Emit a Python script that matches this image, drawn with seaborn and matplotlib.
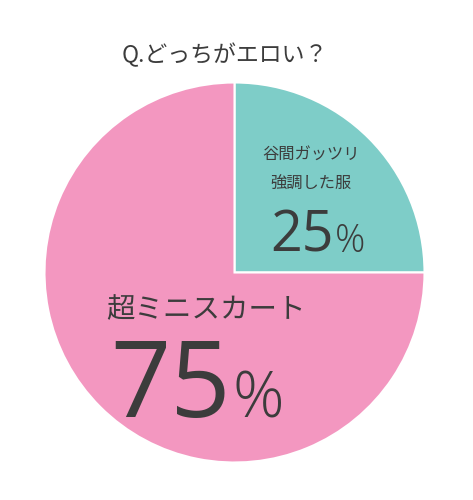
import matplotlib
matplotlib.use("Agg")
import matplotlib.pyplot as plt
import seaborn as sns

# ---- data ----
title = "Q.どっちがエロい？"
categories = ["谷間ガッツリ\n強調した服", "超ミニスカート"]
values = [25, 75]
pct_labels = ["25", "75"]
colors = ["#7ECDC8", "#F397C0"]

sns.set_theme(style="white")
plt.rcParams['font.family'] = ['Noto Sans CJK JP', 'DejaVu Sans']

W, H = 473, 500
fig = plt.figure(figsize=(W / 100, H / 100), dpi=100)
fig.patch.set_facecolor("white")

cx, cy, r = 234.5, 272.5, 190
ax = fig.add_axes([(cx - r) / W, (H - cy - r) / H, 2 * r / W, 2 * r / H])
ax.pie(values, colors=colors, startangle=90, counterclock=False, radius=1,
       wedgeprops=dict(edgecolor="white", linewidth=1.5))
ax.set_xlim(-1.0, 1.0)
ax.set_ylim(-1.0, 1.0)
ax.set_aspect("equal")
ax.axis("off")

txt = "#3c3c3c"

def fx(x):
    return x / W

def fy(y):
    return 1 - y / H

# title
fig.text(fx(225), fy(55), title, ha="center", va="center", fontsize=16.5, color=txt)

# small slice label
lines = categories[0].split("\n")
fig.text(fx(311), fy(155), lines[0], ha="center", va="center", fontsize=11.7, color=txt)
fig.text(fx(311), fy(184), lines[1], ha="center", va="center", fontsize=11.7, color=txt)
fig.text(fx(334), fy(252), pct_labels[0], ha="right", va="baseline", fontsize=40,
         color=txt, family="Open Sans")
fig.text(fx(335), fy(252), "%", ha="left", va="baseline", fontsize=27,
         color=txt, family="Open Sans", fontweight="light")

# big slice label
fig.text(fx(106), fy(310), categories[1], ha="left", va="center", fontsize=20.5, color=txt)
fig.text(fx(231), fy(417), pct_labels[1], ha="right", va="baseline", fontsize=76,
         color=txt, family="Open Sans")
fig.text(fx(232), fy(417), "%", ha="left", va="baseline", fontsize=46,
         color=txt, family="Open Sans", fontweight="light")

fig.savefig("out.png", dpi=100, facecolor="white")
